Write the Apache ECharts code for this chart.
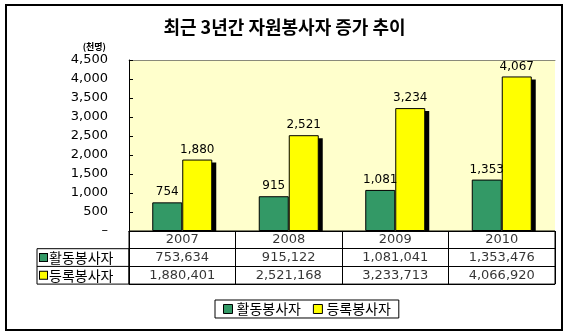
<!DOCTYPE html>
<html>
<head>
<meta charset="utf-8">
<style>
  html, body { margin: 0; padding: 0; background: #fff; }
  #chart { width: 569px; height: 336px; }
</style>
<script src="https://cdn.jsdelivr.net/npm/echarts@6/dist/echarts.min.js"></script>
</head>
<body>
<div id="chart"></div>
<script>
// Volunteers by year (persons) and the same values in thousands for the bars
const years = ['2007', '2008', '2009', '2010'];
const activeCount = [753634, 915122, 1081041, 1353476];
const registeredCount = [1880401, 2521168, 3233713, 4066920];
const activeThousands = [754, 915, 1081, 1353];
const registeredThousands = [1880, 2521, 3234, 4067];
const seriesNames = ['활동봉사자', '등록봉사자'];
const seriesColors = ['#339966', '#FFFF00'];
const titleText = '최근 3년간 자원봉사자 증가 추이';
const unitText = '(천명)';
const yMin = 0, yMax = 4500, yStep = 500;

// Layout of the plot and the data table beneath it
const plotLeft = 129, plotRight = 14, plotTop = 60, plotBottomY = 231;
const tableTop = 231, tableRowH = 17.7, tableRows = 3;
const headerLeft = 37;
const barWidth = 30;
const shadowDX = 4, shadowDY = 3;

const numFont = "'DejaVu Sans', sans-serif";
const krFont = "'Noto Sans CJK KR', sans-serif";
const withCommas = n => String(n).replace(/\B(?=(\d{3})+(?!\d))/g, ',');

const rowKeys = ['', seriesNames[0], seriesNames[1]];
const cells = [];
years.forEach((y, i) => {
  cells.push({ value: [y, rowKeys[0]], cellText: y });
  cells.push({ value: [y, rowKeys[1]], cellText: withCommas(activeCount[i]) });
  cells.push({ value: [y, rowKeys[2]], cellText: withCommas(registeredCount[i]) });
});

const chart = echarts.init(document.getElementById('chart'), null, { renderer: 'canvas' });
const tableH = tableRowH * tableRows;

// drop shadow behind the right-hand (registered) bar of each pair
function renderShadow(params, api) {
  const idx = api.value(0);
  const base = api.coord([idx, 0]);
  const top = api.coord([idx, api.value(1)]);
  return {
    type: 'rect',
    shape: { x: base[0] + shadowDX, y: top[1] + shadowDY, width: barWidth, height: base[1] - top[1] - shadowDY },
    style: { fill: '#000' }
  };
}

chart.setOption({
  animation: false,
  backgroundColor: '#fff',
  textStyle: { fontFamily: numFont },
  title: {
    text: titleText,
    left: 'center',
    top: 13,
    textStyle: { fontFamily: krFont, fontWeight: 'bold', fontSize: 18, color: '#000' }
  },
  legend: {
    data: seriesNames,
    left: 215,
    top: 300,
    orient: 'horizontal',
    borderColor: '#000',
    borderWidth: 1,
    padding: [2, 8],
    itemWidth: 9,
    itemHeight: 9,
    itemGap: 12,
    icon: 'rect',
    itemStyle: { borderColor: '#000', borderWidth: 1 },
    textStyle: { fontFamily: krFont, fontSize: 14, color: '#000', padding: [0, 0, 0, -1] }
  },
  grid: [
    {
      left: plotLeft, right: plotRight, top: plotTop, bottom: 336 - plotBottomY,
      show: true, backgroundColor: '#FFFFCC', borderWidth: 0
    },
    {
      left: plotLeft, right: plotRight, top: tableTop, height: tableH,
      show: true, backgroundColor: '#fff', borderColor: '#000', borderWidth: 1
    }
  ],
  xAxis: [
    {
      type: 'category', gridIndex: 0, data: years,
      axisLine: { show: true, lineStyle: { color: '#000', width: 1 } },
      axisTick: { show: false }, axisLabel: { show: false }
    },
    {
      type: 'category', gridIndex: 0, data: years, position: 'top',
      axisLine: { show: true, lineStyle: { color: '#8a8a7a', width: 1 } },
      axisTick: { show: false }, axisLabel: { show: false }
    },
    {
      type: 'category', gridIndex: 1, data: years,
      axisLine: { show: false }, axisTick: { show: false }, axisLabel: { show: false },
      splitLine: { show: true, lineStyle: { color: '#000', width: 1 } }
    }
  ],
  yAxis: [
    {
      type: 'value', gridIndex: 0, min: yMin, max: yMax, interval: yStep,
      name: unitText,
      nameLocation: 'end',
      nameGap: 9,
      nameTextStyle: { fontFamily: krFont, fontSize: 9, fontWeight: 'bold', color: '#000', align: 'right', padding: [0, 23, 0, 0] },
      axisLine: { show: true, lineStyle: { color: '#000', width: 1 } },
      axisTick: { show: true, inside: true, length: 4, lineStyle: { color: '#000' } },
      axisLabel: {
        margin: 21, fontSize: 13, color: '#000', fontFamily: numFont,
        formatter: v => (v === 0 ? '–' : withCommas(v))
      },
      splitLine: { show: false }
    },
    {
      type: 'category', gridIndex: 1, data: rowKeys, inverse: true,
      axisLine: { show: false }, axisTick: { show: false },
      splitLine: { show: true, lineStyle: { color: '#000', width: 1 } },
      axisLabel: {
        align: 'left',
        margin: plotLeft - headerLeft - 3,
        formatter: v => {
          if (v === seriesNames[0]) return '{g|}{t|' + v + '}';
          if (v === seriesNames[1]) return '{y|}{t|' + v + '}';
          return '';
        },
        rich: {
          g: { width: 7, height: 7, backgroundColor: seriesColors[0], borderColor: '#000', borderWidth: 1 },
          y: { width: 7, height: 7, backgroundColor: seriesColors[1], borderColor: '#000', borderWidth: 1 },
          t: { fontFamily: krFont, fontSize: 14, color: '#000', padding: [0, 0, 0, 2] }
        }
      }
    }
  ],
  series: [
    {
      name: 'shadow', type: 'custom', xAxisIndex: 0, yAxisIndex: 0, z: 1, silent: true,
      data: registeredThousands.map((v, i) => [i, v]),
      encode: { x: 0, y: 1 },
      renderItem: renderShadow
    },
    {
      name: seriesNames[0], type: 'bar', xAxisIndex: 0, yAxisIndex: 0, z: 2,
      data: activeThousands, barWidth: barWidth, barGap: '0%',
      itemStyle: { color: seriesColors[0], borderColor: '#000', borderWidth: 1 },
      label: { show: true, position: 'top', distance: 4, color: '#000', fontSize: 12, fontFamily: numFont, formatter: p => withCommas(p.value) }
    },
    {
      name: seriesNames[1], type: 'bar', xAxisIndex: 0, yAxisIndex: 0, z: 2,
      data: registeredThousands, barWidth: barWidth, barGap: '0%',
      itemStyle: { color: seriesColors[1], borderColor: '#000', borderWidth: 1 },
      label: { show: true, position: 'top', distance: 4, color: '#000', fontSize: 12, fontFamily: numFont, formatter: p => withCommas(p.value) }
    },
    {
      name: 'table', type: 'scatter', xAxisIndex: 2, yAxisIndex: 1,
      data: cells, symbolSize: 0, silent: true,
      label: {
        show: true, position: 'inside', color: '#000', fontSize: 13, fontFamily: numFont,
        formatter: p => p.data.cellText
      }
    }
  ],
  graphic: [
    // outer frame
    { type: 'rect', shape: { x: 6, y: 5, width: 556, height: 325 }, style: { fill: 'none', stroke: '#000', lineWidth: 2 }, z: 100 },
    // row header column of the table
    { type: 'rect', shape: { x: headerLeft, y: tableTop + tableRowH, width: plotLeft - headerLeft, height: tableRowH * 2 }, style: { fill: 'none', stroke: '#000', lineWidth: 1 }, z: 100 },
    { type: 'line', shape: { x1: headerLeft, y1: tableTop + tableRowH * 2, x2: plotLeft, y2: tableTop + tableRowH * 2 }, style: { stroke: '#000', lineWidth: 1 }, z: 100 }
  ]
});
</script>
</body>
</html>
